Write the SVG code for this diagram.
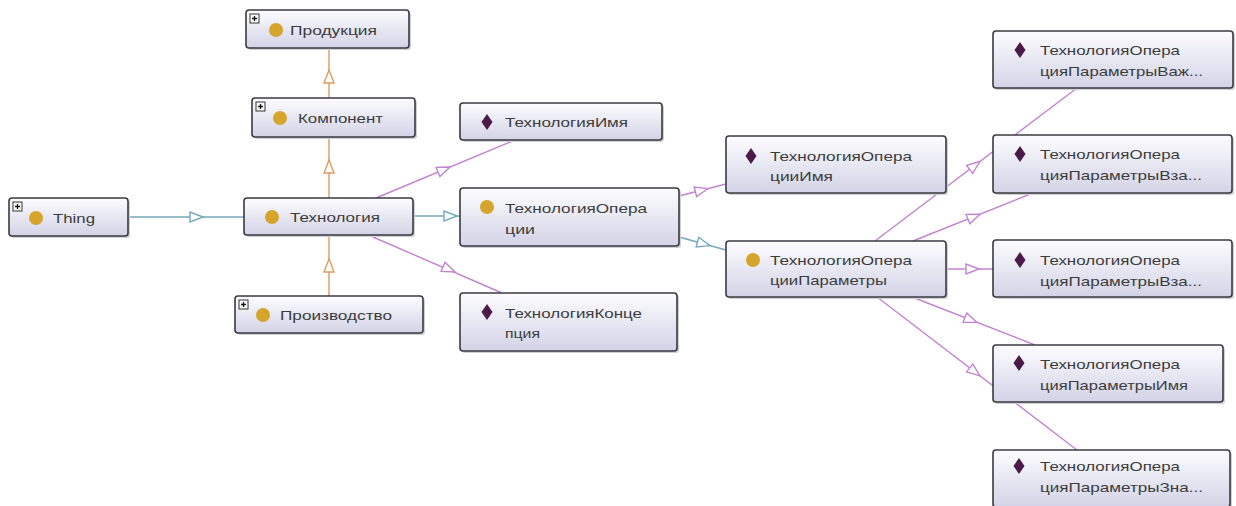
<svg xmlns="http://www.w3.org/2000/svg" width="1236" height="506" viewBox="0 0 1236 506">
  <defs>
    <linearGradient id="nodeFill" x1="0" y1="0" x2="0" y2="1">
      <stop offset="0" stop-color="#fdfdff"/>
      <stop offset="1" stop-color="#d3d3e7"/>
    </linearGradient>
    <!-- open triangle arrowhead, tip at origin, pointing along +x -->
    <path id="tri" d="M0,0 L-13,-5 L-13,5 Z"/>
    <!-- class icon and property icon -->
    <circle id="clsIcon" r="7"/>
    <path id="propIcon" d="M0,-8 L5.5,0 L0,8 L-5.5,0 Z"/>
    <!-- expand marker shown on collapsed class nodes -->
    <g id="plusBox">
      <rect x="0" y="0" width="9" height="9" fill="#ffffff" stroke="#333333" stroke-width="1"/>
      <path d="M2,4.5 H7 M4.5,2 V7" stroke="#111111" stroke-width="1.3" fill="none"/>
    </g>
  </defs>
  <style>
    .box{fill:url(#nodeFill);stroke:#3a3a42;stroke-width:1.6}
    .shadow{fill:#cfcfd4}
    text{font-family:"Liberation Sans",Arial,sans-serif;font-size:13.5px;fill:#3c3c3c}
    .cls{fill:#d5a52c}
    .prop{fill:#4b1a48}
    #connectors line{stroke-width:1.4;fill:none}
    .sub{stroke:#df9b5c}
    .dom{stroke:#c283d0}
    .isa{stroke:#74a9b9}
    .arrow{fill:#ffffff;stroke-width:1.4}
  </style>

  <rect width="1236" height="506" fill="#ffffff"/>

  <!-- connectors are drawn first so that nodes sit on top of them -->
  <g id="connectors">
    <!-- Thing -> Технология -->
    <line class="isa" x1="128" y1="217" x2="244" y2="217"/>
    <use href="#tri" class="arrow" stroke="#74a9b9" transform="translate(203,217)"/>
    <!-- Технология -> ТехнологияОперации -->
    <line class="isa" x1="413" y1="216" x2="460" y2="216"/>
    <use href="#tri" class="arrow" stroke="#74a9b9" transform="translate(457,216)"/>
    <!-- subclass chain (orange) -->
    <line class="sub" x1="329" y1="198" x2="329" y2="137"/>
    <use href="#tri" class="arrow" stroke="#df9b5c" transform="translate(329,160) rotate(-90)"/>
    <line class="sub" x1="329" y1="98" x2="329" y2="48"/>
    <use href="#tri" class="arrow" stroke="#df9b5c" transform="translate(329,70) rotate(-90)"/>
    <line class="sub" x1="329" y1="296" x2="329" y2="235"/>
    <use href="#tri" class="arrow" stroke="#df9b5c" transform="translate(329,259) rotate(-90)"/>
    <!-- Технология -> properties -->
    <line class="dom" x1="376" y1="198" x2="515" y2="140"/>
    <use href="#tri" class="arrow" stroke="#c283d0" transform="translate(450,167) rotate(-22.6)"/>
    <line class="dom" x1="373" y1="237" x2="502" y2="293"/>
    <use href="#tri" class="arrow" stroke="#c283d0" transform="translate(455,272) rotate(23.5)"/>
    <!-- ТехнологияОперации -> children -->
    <line class="dom" x1="679" y1="196" x2="726" y2="184"/>
    <use href="#tri" class="arrow" stroke="#c283d0" transform="translate(708,188.6) rotate(-14.3)"/>
    <line class="isa" x1="679" y1="237" x2="726" y2="250"/>
    <use href="#tri" class="arrow" stroke="#74a9b9" transform="translate(710,245.6) rotate(15.5)"/>
    <!-- ТехнологияОперацииПараметры -> properties -->
    <line class="dom" x1="875" y1="241" x2="1077" y2="88"/>
    <use href="#tri" class="arrow" stroke="#c283d0" transform="translate(980,161.5) rotate(-37.1)"/>
    <line class="dom" x1="913" y1="241" x2="1033" y2="193"/>
    <use href="#tri" class="arrow" stroke="#c283d0" transform="translate(980,214.2) rotate(-21.8)"/>
    <line class="dom" x1="946" y1="269" x2="993" y2="269"/>
    <use href="#tri" class="arrow" stroke="#c283d0" transform="translate(979,269)"/>
    <line class="dom" x1="912" y1="297" x2="1035" y2="345"/>
    <use href="#tri" class="arrow" stroke="#c283d0" transform="translate(977,322.4) rotate(21.3)"/>
    <line class="dom" x1="877" y1="297" x2="1077" y2="450"/>
    <use href="#tri" class="arrow" stroke="#c283d0" transform="translate(980,375.8) rotate(37.4)"/>
  </g>

  <!-- class nodes -->
  <g id="node-thing">
    <rect class="shadow" x="11" y="200" width="119" height="38" rx="3"/>
    <rect class="box" x="9" y="198" width="119" height="38" rx="3"/>
    <use href="#plusBox" x="13" y="202"/>
    <use href="#clsIcon" class="cls" x="36" y="218"/>
    <text x="53" y="223" textLength="42" lengthAdjust="spacingAndGlyphs">Thing</text>
  </g>

  <g id="node-produktsiya">
    <rect class="shadow" x="248" y="12" width="163" height="38" rx="3"/>
    <rect class="box" x="246" y="10" width="163" height="38" rx="3"/>
    <use href="#plusBox" x="250" y="14"/>
    <use href="#clsIcon" class="cls" x="276" y="30"/>
    <text x="290" y="35" textLength="87" lengthAdjust="spacingAndGlyphs">Продукция</text>
  </g>

  <g id="node-komponent">
    <rect class="shadow" x="254" y="100" width="163" height="39" rx="3"/>
    <rect class="box" x="252" y="98" width="163" height="39" rx="3"/>
    <use href="#plusBox" x="256" y="102"/>
    <use href="#clsIcon" class="cls" x="280" y="118"/>
    <text x="298" y="123" textLength="85" lengthAdjust="spacingAndGlyphs">Компонент</text>
  </g>

  <g id="node-tekhnologiya">
    <rect class="shadow" x="246" y="200" width="169" height="37" rx="3"/>
    <rect class="box" x="244" y="198" width="169" height="37" rx="3"/>
    <use href="#clsIcon" class="cls" x="272" y="217"/>
    <text x="290" y="222" textLength="90" lengthAdjust="spacingAndGlyphs">Технология</text>
  </g>

  <g id="node-proizvodstvo">
    <rect class="shadow" x="237" y="298" width="188" height="37" rx="3"/>
    <rect class="box" x="235" y="296" width="188" height="37" rx="3"/>
    <use href="#plusBox" x="239" y="300"/>
    <use href="#clsIcon" class="cls" x="263" y="315"/>
    <text x="280" y="320" textLength="112" lengthAdjust="spacingAndGlyphs">Производство</text>
  </g>

  <g id="node-tekhnologiya-imya">
    <rect class="shadow" x="462" y="105" width="202" height="37" rx="3"/>
    <rect class="box" x="460" y="103" width="202" height="37" rx="3"/>
    <use href="#propIcon" class="prop" x="487" y="122"/>
    <text x="505" y="127" textLength="123" lengthAdjust="spacingAndGlyphs">ТехнологияИмя</text>
  </g>

  <g id="node-tekhnologiya-operatsii">
    <rect class="shadow" x="462" y="190" width="219" height="58" rx="3"/>
    <rect class="box" x="460" y="188" width="219" height="58" rx="3"/>
    <use href="#clsIcon" class="cls" x="487" y="207"/>
    <text x="505" y="213" textLength="142" lengthAdjust="spacingAndGlyphs">ТехнологияОпера</text>
    <text x="505" y="234" textLength="30" lengthAdjust="spacingAndGlyphs">ции</text>
  </g>

  <g id="node-tekhnologiya-kontseptsiya">
    <rect class="shadow" x="462" y="295" width="217" height="58" rx="3"/>
    <rect class="box" x="460" y="293" width="217" height="58" rx="3"/>
    <use href="#propIcon" class="prop" x="487" y="312"/>
    <text x="505" y="318" textLength="137" lengthAdjust="spacingAndGlyphs">ТехнологияКонце</text>
    <text x="505" y="338" textLength="35" lengthAdjust="spacingAndGlyphs">пция</text>
  </g>

  <g id="node-operatsii-imya">
    <rect class="shadow" x="728" y="138" width="220" height="57" rx="3"/>
    <rect class="box" x="726" y="136" width="220" height="57" rx="3"/>
    <use href="#propIcon" class="prop" x="751" y="156"/>
    <text x="770" y="161" textLength="142" lengthAdjust="spacingAndGlyphs">ТехнологияОпера</text>
    <text x="770" y="181" textLength="63" lengthAdjust="spacingAndGlyphs">цииИмя</text>
  </g>

  <g id="node-operatsii-parametry">
    <rect class="shadow" x="728" y="243" width="220" height="56" rx="3"/>
    <rect class="box" x="726" y="241" width="220" height="56" rx="3"/>
    <use href="#clsIcon" class="cls" x="753" y="260"/>
    <text x="770" y="265" textLength="142" lengthAdjust="spacingAndGlyphs">ТехнологияОпера</text>
    <text x="770" y="285" textLength="117" lengthAdjust="spacingAndGlyphs">цииПараметры</text>
  </g>

  <!-- property nodes of ТехнологияОперацииПараметры -->
  <g id="node-param-vazh">
    <rect class="shadow" x="995" y="33" width="240" height="57" rx="3"/>
    <rect class="box" x="993" y="31" width="240" height="57" rx="3"/>
    <use href="#propIcon" class="prop" x="1020" y="50"/>
    <text x="1040" y="55" textLength="140" lengthAdjust="spacingAndGlyphs">ТехнологияОпера</text>
    <text x="1040" y="76" textLength="163" lengthAdjust="spacingAndGlyphs">цияПараметрыВаж...</text>
  </g>

  <g id="node-param-vza-1">
    <rect class="shadow" x="995" y="137" width="239" height="58" rx="3"/>
    <rect class="box" x="993" y="135" width="239" height="58" rx="3"/>
    <use href="#propIcon" class="prop" x="1020" y="154"/>
    <text x="1040" y="159" textLength="140" lengthAdjust="spacingAndGlyphs">ТехнологияОпера</text>
    <text x="1040" y="180" textLength="162" lengthAdjust="spacingAndGlyphs">цияПараметрыВза...</text>
  </g>

  <g id="node-param-vza-2">
    <rect class="shadow" x="995" y="242" width="239" height="57" rx="3"/>
    <rect class="box" x="993" y="240" width="239" height="57" rx="3"/>
    <use href="#propIcon" class="prop" x="1020" y="260"/>
    <text x="1040" y="265" textLength="140" lengthAdjust="spacingAndGlyphs">ТехнологияОпера</text>
    <text x="1040" y="286" textLength="162" lengthAdjust="spacingAndGlyphs">цияПараметрыВза...</text>
  </g>

  <g id="node-param-imya">
    <rect class="shadow" x="995" y="347" width="230" height="57" rx="3"/>
    <rect class="box" x="993" y="345" width="230" height="57" rx="3"/>
    <use href="#propIcon" class="prop" x="1019" y="363"/>
    <text x="1040" y="369" textLength="140" lengthAdjust="spacingAndGlyphs">ТехнологияОпера</text>
    <text x="1040" y="390" textLength="148" lengthAdjust="spacingAndGlyphs">цияПараметрыИмя</text>
  </g>

  <g id="node-param-zna">
    <rect class="shadow" x="995" y="452" width="237" height="57" rx="3"/>
    <rect class="box" x="993" y="450" width="237" height="57" rx="3"/>
    <use href="#propIcon" class="prop" x="1019" y="466"/>
    <text x="1040" y="471" textLength="140" lengthAdjust="spacingAndGlyphs">ТехнологияОпера</text>
    <text x="1040" y="492" textLength="163" lengthAdjust="spacingAndGlyphs">цияПараметрыЗна...</text>
  </g>
</svg>
